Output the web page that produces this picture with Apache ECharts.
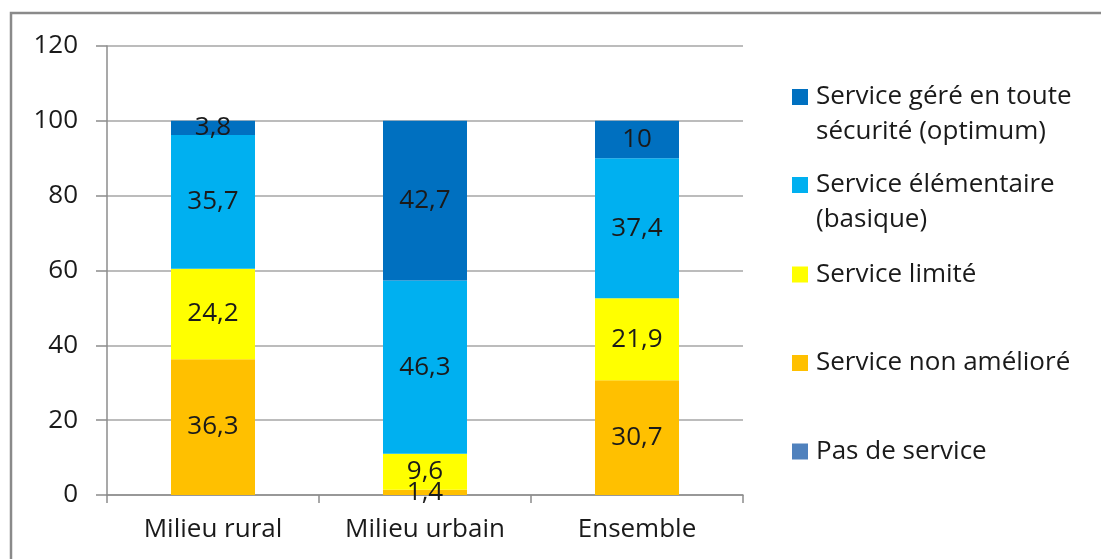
<!DOCTYPE html>
<html>
<head>
<meta charset="utf-8">
<script src="https://cdn.jsdelivr.net/npm/echarts@6/dist/echarts.min.js"></script>
<style>
  html, body { margin: 0; padding: 0; background: #fff; }
  #chart { width: 1101px; height: 559px; }
</style>
</head>
<body>
<div id="chart"></div>
<script>
const categories = ["Milieu rural", "Milieu urbain", "Ensemble"];
const yTicks = [0, 20, 40, 60, 80, 100, 120];

// stacked from bottom to top
const pasDeService = [0, 0, 0];
const nonAmeliore = [36.3, 1.4, 30.7];
const limite = [24.2, 9.6, 21.9];
const elementaire = [35.7, 46.3, 37.4];
const gere = [3.8, 42.7, 10];

const FONT = "Open Sans";
const chart = echarts.init(document.getElementById("chart"));

function commaLabel(p) {
  if (!p.value) return "";
  return String(p.value).replace(".", ",");
}

function makeSeries(name, data, color) {
  return {
    name: name,
    type: "bar",
    stack: "total",
    data: data,
    barWidth: 84,
    itemStyle: { color: color },
    label: {
      show: true,
      position: "inside",
      color: "#1a1a1a",
      fontFamily: FONT,
      fontSize: 26,
      formatter: commaLabel,
    },
    emphasis: { disabled: true },
  };
}

const names = {
  gere: "Service géré en toute\nsécurité (optimum)",
  elem: "Service élémentaire\n(basique)",
  lim: "Service limité",
  non: "Service non amélioré",
  pas: "Pas de service",
};

// one legend per entry so the spacing matches the picture
// two-line names get an empty first line so the icon sits on the first text line
function makeLegend(name, iconCenter, twoLines) {
  const lh = 35;
  return {
    data: [name],
    left: 792,
    top: twoLines ? iconCenter - lh * 1.5 : iconCenter - lh / 2,
    padding: 0,
    orient: "vertical",
    itemWidth: 16,
    itemHeight: 16,
    icon: "rect",
    selectedMode: false,
    formatter: function (n) {
      return twoLines ? "\n" + n : n;
    },
    textStyle: {
      fontFamily: FONT,
      fontSize: 26,
      color: "#1a1a1a",
      lineHeight: lh,
      padding: [0, 0, 0, 3],
    },
  };
}

const option = {
  animation: false,
  graphic: [
    {
      type: "rect",
      shape: { x: 11, y: 13, width: 1200, height: 700 },
      style: { fill: "none", stroke: "#8a8a8a", lineWidth: 2.5 },
    },
  ],
  legend: [
    makeLegend(names.gere, 97, true),
    makeLegend(names.elem, 185, true),
    makeLegend(names.lim, 274.5, false),
    makeLegend(names.non, 363, false),
    makeLegend(names.pas, 451.5, false),
  ],
  grid: { left: 107, right: 358, top: 46, bottom: 64 },
  xAxis: {
    type: "category",
    data: categories,
    axisLine: { lineStyle: { color: "#8c8c8c", width: 1.5 } },
    axisTick: { show: true, length: 8, lineStyle: { color: "#8c8c8c", width: 1.5 } },
    axisLabel: { color: "#1a1a1a", fontFamily: FONT, fontSize: 26, margin: 22, interval: 0 },
  },
  yAxis: {
    type: "value",
    min: 0,
    max: 120,
    interval: 20,
    axisLine: { show: true, lineStyle: { color: "#8c8c8c", width: 1.5 } },
    axisTick: { show: true, length: 11, lineStyle: { color: "#8c8c8c", width: 1.5 } },
    splitLine: { lineStyle: { color: "#a6a6a6", width: 1.5 } },
    axisLabel: {
      color: "#1a1a1a",
      fontFamily: FONT,
      fontSize: 26,
      margin: 29,
      formatter: function (v) {
        return yTicks.indexOf(v) >= 0 ? String(v) : "";
      },
    },
  },
  series: [
    makeSeries(names.pas, pasDeService, "#4f81bd"),
    makeSeries(names.non, nonAmeliore, "#ffc000"),
    makeSeries(names.lim, limite, "#ffff00"),
    makeSeries(names.elem, elementaire, "#00b0f0"),
    makeSeries(names.gere, gere, "#0070c0"),
  ],
};

chart.setOption(option);
</script>
</body>
</html>
